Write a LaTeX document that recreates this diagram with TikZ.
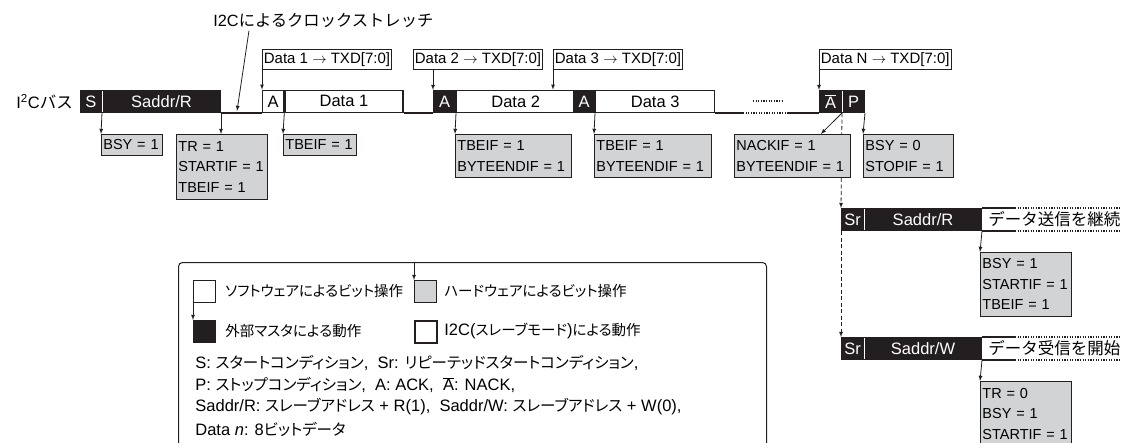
\documentclass[tikz,border=0pt]{standalone}
\usepackage{fontspec}
\setmainfont{Liberation Sans}
\newfontfamily\jp{Noto Sans CJK JP}
\newfontfamily\jpp[RawFeature=+palt]{Noto Sans CJK JP}
\definecolor{busblack}{HTML}{231F20}
\definecolor{flaggray}{HTML}{D1D3D4}
\newcommand\busfont{\fontsize{16.5}{19}\selectfont}
\newcommand\hdfont{\fontsize{16.3}{20}\selectfont}
\newcommand\flagfont{\fontsize{14.5}{20.5}\selectfont}
\newcommand\txdfont{\fontsize{15}{18}\selectfont}
\newcommand\legfont{\fontsize{16.5}{22}\selectfont}
\newcommand\legjp{\fontsize{14.5}{22}\selectfont\jpp}
\newcommand\linejp{\fontsize{15.5}{22}\selectfont\jpp}
\tikzset{
	blk/.style={shape=rectangle, draw=busblack, fill=busblack, text=white, line width=1pt, minimum height=22, inner sep=0, anchor=south west, font=\busfont},
	wht/.style={shape=rectangle, draw=busblack, fill=white, line width=1.3pt, minimum height=22, inner sep=0, anchor=south west, font=\busfont},
	txd/.style={shape=rectangle, draw=busblack, fill=white, line width=0.8pt, minimum height=20, inner xsep=1.5, inner ysep=0, anchor=south west, font=\txdfont},
	flag/.style={shape=rectangle, draw=busblack, fill=flaggray, line width=0.8pt, inner xsep=2, inner ysep=0, anchor=north west, align=left, font=\flagfont},
	sep/.style={white, line width=0.7pt},
	dots/.style={line width=1.3pt, dash pattern={on 1.2pt off 1.4pt}},
	key/.style={shape=rectangle, draw=busblack, line width=0.8pt, minimum width=22, minimum height=22, inner sep=0, anchor=north west},
}

\begin{document}
\begin{tikzpicture}[x=1pt, y=-1pt, line width=0.8pt, draw=busblack]
			\useasboundingbox (0,0) rectangle (1121,442);
			\clip (0,0) rectangle (1121,442);
			\node[anchor=west, font=\busfont, inner sep=0](BUS) at (16,102){I\textsuperscript{2}C{\jp バス}};
			\node[blk, minimum width=21](S) at (80,113){S};
			\node[blk, minimum width=118](SAR) at (S.south east){Saddr/R};
			\draw[sep] ([yshift=-1]S.north east) -- ([yshift=1]S.south east);
			\node[wht, minimum width=21](A1) at (262,113){A};
			\node[wht, minimum width=118](D1) at (A1.south east){Data 1};
			\node[blk, minimum width=22](A2) at (433,113){A};
			\node[wht, minimum width=118](D2) at (A2.south east){Data 2};
			\node[blk, minimum width=21](A3) at (573,113){A};
			\node[wht, minimum width=119](D3) at (A3.south east){Data 3};
			\node[blk, minimum width=22](NA) at (819,113){$\overline{\hbox{A}}$};
			\node[blk, minimum width=22](P) at (NA.south east){P};
			\draw[sep] ([yshift=-1]NA.north east) -- ([yshift=1]NA.south east);
			\coordinate (dotL) at (743,113);
			\coordinate (dotR) at (787,113);
			\coordinate (dotU) at (753,101);
			\draw[line width=2pt] (SAR.south east) -- (A1.south west) (D1.south east) -- (A2.south west) (D3.south east) -- (dotL) (dotR) -- (NA.south west);
			\draw[dots] (dotL) -- (dotR) (dotU) -- ++(30,0);
			\node[anchor=west, font=\hdfont, inner sep=0](CS) at (213,21){I2C{\jp によるクロックストレッチ}};
			\coordinate (CSpt) at (237,111);
			\draw[-latex] ([xshift=36,yshift=-2]CS.south west) -- (CSpt);
			\node[txd](T1) at (262,70){Data 1 $\rightarrow$ TXD[7:0]};
			\node[txd](T2) at (413,70){Data 2 $\rightarrow$ TXD[7:0]};
			\node[txd](T3) at (553,70){Data 3 $\rightarrow$ TXD[7:0]};
			\node[txd](TN) at (819,70){Data N $\rightarrow$ TXD[7:0]};
			\draw[-latex] (T1.south west) -- (A1.north west);
			\draw[-latex] (A2.north west |- T2.south) -- (A2.north west);
			\draw[-latex] (T3.south west) -- (T3.south west |- D2.north);
			\draw[-latex] (TN.south west) -- (NA.north west);
			\node[blk, minimum width=22](SR1) at (841,231){Sr};
			\node[blk, minimum width=117](SA1) at (SR1.south east){Saddr/R};
			\draw[sep] ([yshift=-1]SR1.north east) -- ([yshift=1]SR1.south east);
			\node[anchor=west, font=\busfont\jp, inner sep=0](C1) at (988,219.5){データ送信を継続};
			\draw[line width=1.3pt] (SA1.north east) -- ++(33,0) (SA1.south east) -- ++(33,0);
			\draw[dots] ([xshift=33]SA1.north east) -- ++(110,0) ([xshift=33]SA1.south east) -- ++(110,0);
			\node[blk, minimum width=22](SR2) at (841,360){Sr};
			\node[blk, minimum width=117](SA2) at (SR2.south east){Saddr/W};
			\draw[sep] ([yshift=-1]SR2.north east) -- ([yshift=1]SR2.south east);
			\node[anchor=west, font=\busfont\jp, inner sep=0](C2) at (988,348.5){データ受信を開始};
			\draw[line width=1.3pt] (SA2.north east) -- ++(33,0) (SA2.south east) -- ++(33,0);
			\draw[dots] ([xshift=33]SA2.north east) -- ++(110,0) ([xshift=33]SA2.south east) -- ++(110,0);
			\draw[-latex, dash pattern={on 4pt off 2.5pt}] (NA.south east) -- (SR1.north west);
			\draw[-latex, dash pattern={on 4pt off 2.5pt}] (SR1.south west) -- (SR2.north west);
			\node[flag, text width=57, minimum height=21](F1) at (101,134){BSY = 1};
			\node[flag, text width=87, minimum height=65](F2) at (176,134){TR = 1\\STARTIF = 1\\TBEIF = 1};
			\node[flag, text width=69, minimum height=21](F3) at (283,134){TBEIF = 1};
			\node[flag, text width=112, minimum height=43](F4) at (455,134){TBEIF = 1\\BYTEENDIF = 1};
			\node[flag, text width=113, minimum height=43](F5) at (594,134){TBEIF = 1\\BYTEENDIF = 1};
			\node[flag, text width=112, minimum height=43](F6) at (734,134){NACKIF = 1\\BYTEENDIF = 1};
			\node[flag, text width=86, minimum height=43](F7) at (863,134){BSY = 0\\STOPIF = 1};
			\node[flag, text width=87, minimum height=64](F8) at (980,252){BSY = 1\\STARTIF = 1\\TBEIF = 1};
			\node[flag, text width=87, minimum height=65](F9) at (980,381){TR = 0\\BSY = 1\\STARTIF = 1};
			\draw[-latex] (S.south east) -- (F1.north west);
			\draw[-latex] (SAR.south east) -- (SAR.south east |- F2.north);
			\draw[-latex] (D1.south west) -- (F3.north west);
			\draw[-latex] (D2.south west) -- (F4.north west);
			\draw[-latex] (D3.south west) -- (F5.north west);
			\draw[-latex] (NA.south east) -- ([xshift=-30]F6.north east);
			\draw[-latex] (P.south east) -- (F7.north west);
			\draw[-latex] (SA1.south east) -- (F8.north west);
			\draw[-latex] (SA2.south east) -- (F9.north west);
			\node[shape=rectangle, draw=busblack, line width=1pt, rounded corners=4, minimum width=588, minimum height=220, anchor=north west](LG) at (178,262){};
			\node[key, fill=white](K1) at (193,280){};
			\node[key, fill=busblack](K2) at (193,320){};
			\node[key, fill=flaggray](K3) at (414,280){};
			\node[key, fill=white, line width=1.5pt](K4) at (414,320){};
			\draw[-latex] (K1.south west) -- (K2.north west);
			\draw[-latex] (LG.north -| K3.west) -- (K3.north west);
			\node[anchor=west, font=\legjp, inner xsep=0](K1t) at (225,291){ソフトウェアによるビット操作};
			\node[anchor=west, font=\legjp, inner xsep=0](K2t) at (225,331){外部マスタによる動作};
			\node[anchor=west, font=\legjp, inner xsep=0](K3t) at (444,291){ハードウェアによるビット操作};
			\node[anchor=west, font=\legfont, inner xsep=0](K4t) at (444,331){I2C({\legjp スレーブモード}){\legjp による動作}};
			\node[anchor=west, font=\legfont, inner xsep=0](L1) at (195,363){S: {\linejp スタートコンディション},\ \ Sr: {\linejp リピーテッドスタートコンディション},};
			\node[anchor=west, font=\legfont, inner xsep=0](L2) at (195,385){P: {\linejp ストップコンディション},\ \ A: ACK,\ \ $\overline{\hbox{A}}$: NACK,};
			\node[anchor=west, font=\legfont, inner xsep=0](L3) at (195,407){Saddr/R: {\linejp スレーブアドレス} + R(1),\ \ Saddr/W: {\linejp スレーブアドレス} + W(0),};
			\node[anchor=west, font=\legfont, inner xsep=0](L4) at (195,429){Data \textit{n}: 8{\linejp ビットデータ}};
		\end{tikzpicture}
\end{document}
